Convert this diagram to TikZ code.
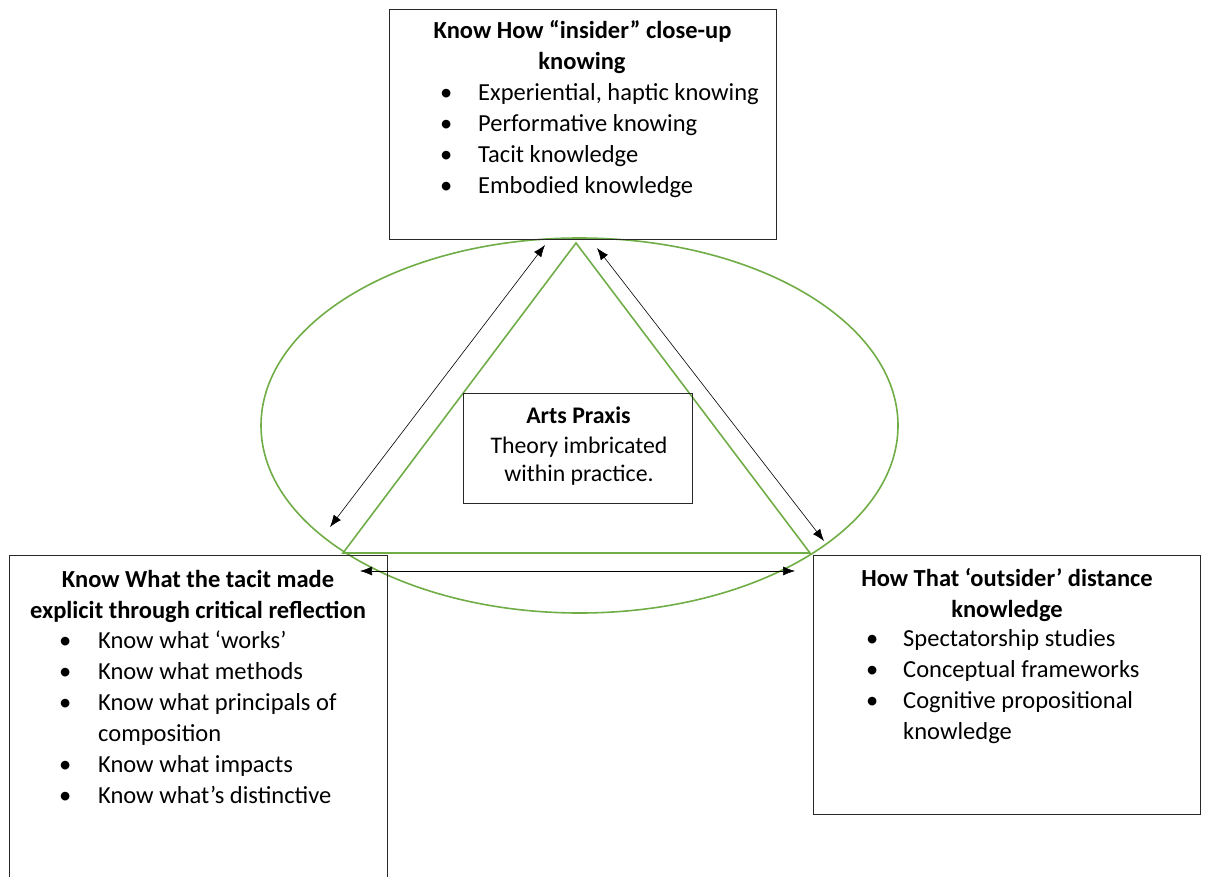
\documentclass[tikz,border=0pt]{standalone}
\usepackage{fontspec}
\setmainfont{Carlito}
\usetikzlibrary{arrows.meta,shapes.geometric}
\definecolor{grn}{RGB}{112,173,71}
\definecolor{edge}{RGB}{40,40,40}
\tikzset{
  box/.style={draw=edge, line width=0.9pt, inner sep=0pt, fill=none},
  txt/.style={inner sep=0pt, font=\fontsize{24.5}{29}\selectfont},
  ttl/.style={txt, font=\fontsize{24.5}{29}\selectfont\bfseries},
  mtxt/.style={inner sep=0pt, font=\fontsize{23.8}{28}\selectfont},
  grnline/.style={draw=grn, line width=1.6pt},
  dbl/.style={draw=black, line width=0.6pt, {Latex[length=12pt,width=9pt]}-{Latex[length=12pt,width=9pt]}}
}
\begin{document}
\begin{tikzpicture}[x=1pt,y=-1pt]
\useasboundingbox (0,0) rectangle (1206,877);
% green ellipse and triangle
\node[grnline, ellipse, minimum width=637pt, minimum height=375pt, inner sep=0pt] (ell) at (579.5,425.5) {};
\coordinate (A) at (576,243);
\coordinate (B) at (343,553);
\coordinate (C) at (810,553);
\draw[grnline, line join=miter] (A) -- (B) -- (C) -- cycle;
% boxes
\node[box, minimum width=387pt, minimum height=230pt] (top) at (582.5,124) {};
\node[box, minimum width=378pt, minimum height=340pt] (left) at (198,725) {};
\node[box, minimum width=387pt, minimum height=259pt] (right) at (1006.5,684.5) {};
\node[box, minimum width=229pt, minimum height=110pt] (mid) at (577.5,448) {};
% top box text
\node[ttl, anchor=base] (tt1) at (582.5,39) {Know How “insider” close-up};
\node[ttl, anchor=base] (tt2) at (582,70) {knowing};
\foreach \t [count=\i] in {{Experiential, haptic knowing},{Performative knowing},{Tacit knowledge},{Embodied knowledge}}{
  \node[txt, anchor=base west] (tb\i) at (440,101+31*\i-31) {•};
  \node[txt, anchor=base west] (tx\i) at (478,101+31*\i-31) {\t};
}
% left box text
\node[ttl, anchor=base] (lt1) at (198,587) {Know What the tacit made};
\node[ttl, anchor=base] (lt2) at (198,618) {explicit through critical reflection};
\foreach \t/\r in {{Know what ‘works’}/0,{Know what methods}/1,{Know what principals of}/2,{Know what impacts}/4,{Know what’s distinctive}/5}{
  \node[txt, anchor=base west] (lb\r) at (59,648+31*\r) {•};
  \node[txt, anchor=base west] (lx\r) at (98,648+31*\r) {\t};
}
\node[txt, anchor=base west] (lx3) at (98,741) {composition};
% right box text
\node[ttl, anchor=base] (rt1) at (1007,586) {How That ‘outsider’ distance};
\node[ttl, anchor=base] (rt2) at (1007,617) {knowledge};
\foreach \t/\r in {{Spectatorship studies}/0,{Conceptual frameworks}/1,{Cognitive propositional}/2}{
  \node[txt, anchor=base west] (rb\r) at (866,646+31*\r) {•};
  \node[txt, anchor=base west] (rx\r) at (903,646+31*\r) {\t};
}
\node[txt, anchor=base west] (rx3) at (903,739) {knowledge};
% middle box text
\node[mtxt, anchor=base, font=\fontsize{23.8}{28}\selectfont\bfseries] (m1) at (578.5,423) {Arts Praxis};
\node[mtxt, anchor=base] (m2) at (579,453) {Theory imbricated};
\node[mtxt, anchor=base] (m3) at (579,481) {within practice.};
% arrows
\coordinate (l1) at (545,245);
\coordinate (l2) at (330,527);
\coordinate (r1) at (597,248);
\coordinate (r2) at (824,541);
\coordinate (b1) at (360,571);
\coordinate (b2) at (795,571);
\draw[dbl] (l1) -- (l2);
\draw[dbl] (r1) -- (r2);
\draw[dbl] (b1) -- (b2);
\end{tikzpicture}
\end{document}
